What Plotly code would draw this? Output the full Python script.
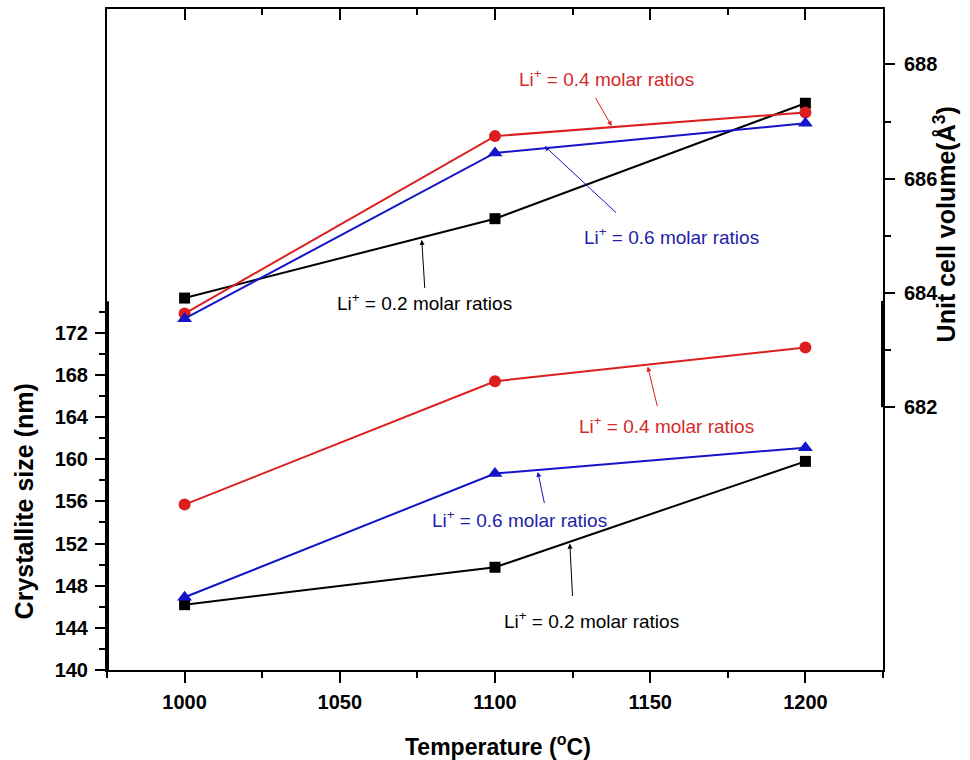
import plotly.graph_objects as go

# ---------------- data ----------------
temperature = [1000, 1100, 1200]

# crystallite size (nm) - left axis
size_li02 = [146.2, 149.75, 159.8]
size_li04 = [155.7, 167.4, 170.6]
size_li06 = [146.9, 158.65, 161.1]

# unit cell volume (A^3) - right axis
vol_li02 = [683.91, 685.30, 687.32]
vol_li04 = [683.64, 686.745, 687.16]
vol_li06 = [683.55, 686.45, 686.97]

series_labels = ["Li<sup>+</sup> = 0.2 molar ratios",
                 "Li<sup>+</sup> = 0.4 molar ratios",
                 "Li<sup>+</sup> = 0.6 molar ratios"]

left_ticks = [140, 144, 148, 152, 156, 160, 164, 168, 172]
left_minor = [142, 146, 150, 154, 158, 162, 166, 170, 174]
right_ticks = [682, 684, 686, 688]
right_minor = [683, 685, 687]
x_ticks = [1000, 1050, 1100, 1150, 1200]
x_minor = [975, 1025, 1075, 1125, 1175, 1225]

left_title = "Crystallite size (nm)"
right_title = "Unit cell volume(Å<sup>3</sup>)"
x_title = "Temperature (<sup>o</sup>C)"

# ---------------- styling ----------------
BLACK = "#000000"
RED = "#dc1e1e"
BLUE = "#1414c8"
RED_TXT = "#d42a2a"
BLUE_TXT = "#2222aa"
FONT = "Liberation Sans, Arial, sans-serif"

fig = go.Figure()

styles = [(BLACK, "square", 11), (RED, "circle", 12), (BLUE, "triangle-up", 13)]

for vals, (c, sym, sz), name in zip([size_li02, size_li04, size_li06], styles, series_labels):
    fig.add_trace(go.Scatter(x=temperature, y=vals, mode="lines+markers", name=name,
                             line=dict(color=c, width=2),
                             marker=dict(color=c, symbol=sym, size=sz),
                             xaxis="x", yaxis="y", showlegend=False))

for vals, (c, sym, sz), name in zip([vol_li02, vol_li04, vol_li06], styles, series_labels):
    fig.add_trace(go.Scatter(x=temperature, y=vals, mode="lines+markers", name=name,
                             line=dict(color=c, width=2),
                             marker=dict(color=c, symbol=sym, size=sz),
                             xaxis="x2", yaxis="y2", showlegend=False))

tickfont = dict(family=FONT, size=20, color=BLACK, weight="bold")
titlefont = dict(family=FONT, size=25, color=BLACK, weight="bold")
xtitlefont = dict(family=FONT, size=23, color=BLACK, weight="bold")

common_axis = dict(showgrid=False, zeroline=False, showline=True, linecolor=BLACK,
                   linewidth=2, tickcolor=BLACK, tickwidth=2, automargin=False)

fig.update_layout(
    width=970, height=760,
    margin=dict(l=107, r=87, t=9, b=90),
    paper_bgcolor="white", plot_bgcolor="white",
    font=dict(family=FONT, color=BLACK),
    xaxis=dict(range=[975, 1225], tickmode="array", tickvals=x_ticks,
               ticks="outside", ticklen=11, tickfont=tickfont, ticklabelstandoff=2,
               minor=dict(tickmode="array", tickvals=x_minor, ticks="outside",
                          ticklen=6, tickwidth=2, tickcolor=BLACK),
               **common_axis),
    xaxis2=dict(range=[975, 1225], overlaying="x", side="top", anchor="y2",
                tickmode="array", tickvals=x_ticks, ticks="inside", ticklen=11,
                showticklabels=False,
                minor=dict(tickmode="array", tickvals=x_minor, ticks="inside",
                           ticklen=6, tickwidth=2, tickcolor=BLACK),
                **common_axis),
    yaxis=dict(range=[140, 202.73], tickmode="array", tickvals=left_ticks,
               ticks="outside", ticklen=10, tickfont=tickfont, ticklabelstandoff=3,
               minor=dict(tickmode="array", tickvals=left_minor, ticks="outside",
                          ticklen=6, tickwidth=2, tickcolor=BLACK),
               **common_axis),
    yaxis2=dict(range=[677.4, 688.97], overlaying="y", side="right", anchor="x2",
                tickmode="array", tickvals=right_ticks, ticks="outside", ticklen=10,
                tickfont=tickfont, ticklabelstandoff=5,
                minor=dict(tickmode="array", tickvals=right_minor, ticks="outside",
                           ticklen=6, tickwidth=2, tickcolor=BLACK),
                **common_axis),
)

# axis titles placed as in the reference
fig.add_annotation(text=x_title, xref="paper", x=(498 - 107) / 776,
                   yref="paper", y=(670.5 - 746) / 661.2, showarrow=False,
                   font=xtitlefont, xanchor="center", yanchor="middle")
fig.add_annotation(text=left_title, textangle=-90, xref="paper", x=(24 - 107) / 776,
                   yref="y", y=156.0, showarrow=False, font=titlefont,
                   xanchor="center", yanchor="middle")
fig.add_annotation(text=right_title, textangle=-90, xref="paper", x=(945 - 107) / 776,
                   yref="y2", y=685.2, showarrow=False, font=titlefont,
                   xanchor="center", yanchor="middle")

# thick axis segments (decoration as in the original figure)
fig.add_shape(type="line", xref="paper", x0=0, x1=0, yref="y", y0=140, y1=175,
              line=dict(color=BLACK, width=4))
fig.add_shape(type="line", xref="paper", x0=1, x1=1, yref="y2", y0=682, y1=683.86,
              line=dict(color=BLACK, width=4))

annfont = dict(family=FONT, size=19)

# labels + arrows for the unit cell volume curves (top)
top_ann = [
    (series_labels[1], RED, RED_TXT, 1135.8, 687.77, 1132.1, 687.44, 1137.6, 686.92),
    (series_labels[2], BLUE, BLUE_TXT, 1156.7, 684.99, 1139.5, 685.38, 1116.0, 686.57),
    (series_labels[0], BLACK, BLACK, 1077.4, 683.84, 1077.4, 684.06, 1076.4, 684.93),
]
for text, c, tc, tx, ty, ax, ay, hx, hy in top_ann:
    fig.add_annotation(x=tx, y=ty, xref="x2", yref="y2", text=text, showarrow=False,
                       font=dict(color=tc, **annfont))
    fig.add_annotation(x=hx, y=hy, ax=ax, ay=ay, xref="x2", yref="y2", axref="x2",
                       ayref="y2", text="", showarrow=True, arrowhead=2, arrowsize=1,
                       arrowwidth=1, arrowcolor=c)

# labels + arrows for the crystallite size curves (bottom)
bot_ann = [
    (series_labels[1], RED, RED_TXT, 1155.1, 163.29, 1152.4, 164.9, 1149.2, 168.8),
    (series_labels[2], BLUE, BLUE_TXT, 1108.0, 154.37, 1116.0, 155.7, 1113.8, 158.8),
    (series_labels[0], BLACK, BLACK, 1131.0, 144.70, 1125.0, 146.88, 1124.1, 152.0),
]
for text, c, tc, tx, ty, ax, ay, hx, hy in bot_ann:
    fig.add_annotation(x=tx, y=ty, xref="x", yref="y", text=text, showarrow=False,
                       font=dict(color=tc, **annfont))
    fig.add_annotation(x=hx, y=hy, ax=ax, ay=ay, xref="x", yref="y", axref="x",
                       ayref="y", text="", showarrow=True, arrowhead=2, arrowsize=1,
                       arrowwidth=1, arrowcolor=c)

fig.write_html("out.html")
